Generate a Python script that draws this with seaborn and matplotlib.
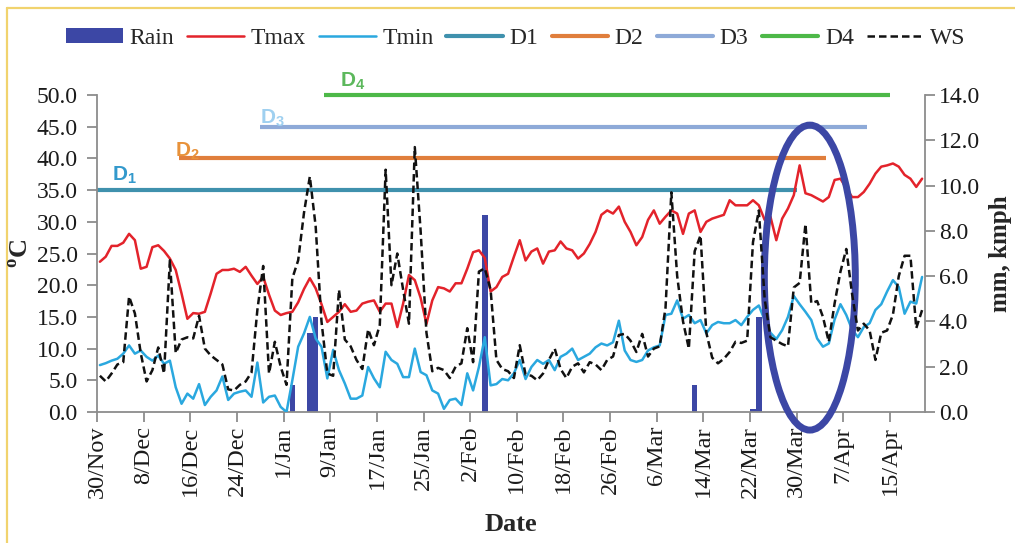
import numpy as np
import matplotlib
matplotlib.use("Agg")
import matplotlib.pyplot as plt
import seaborn as sns
from matplotlib.patches import Ellipse, Patch
from matplotlib.lines import Line2D

# Daily series, 30 Nov to 20 Apr (142 days)
tmax = [23.7, 24.5, 26.2, 26.2, 26.7, 28.1, 27.1, 22.6, 22.9, 26.0,
        26.3, 25.4, 24.2, 22.4, 18.7, 14.7, 15.6, 15.5, 15.8, 18.7,
        21.8, 22.4, 22.4, 22.6, 22.1, 22.9, 21.5, 20.2, 21.3, 18.5,
        16.0, 15.3, 15.6, 15.8, 17.3, 19.4, 21.1, 19.5, 17.0, 14.2,
        15.0, 15.8, 17.0, 15.8, 16.0, 17.1, 17.4, 17.6, 15.8, 17.1,
        17.1, 13.4, 17.1, 21.6, 20.8, 18.0, 13.9, 17.6, 19.7, 19.5,
        19.0, 20.3, 20.3, 22.6, 25.2, 25.5, 24.3, 19.0, 19.7, 21.3,
        21.8, 24.5, 27.1, 23.9, 25.3, 25.8, 23.4, 25.3, 25.5, 26.9,
        25.8, 25.5, 24.2, 25.0, 26.5, 28.4, 31.1, 31.8, 31.3, 32.4,
        30.0, 28.4, 26.3, 27.6, 30.3, 31.8, 29.7, 30.8, 31.8, 31.3,
        28.1, 31.3, 31.8, 28.4, 30.0, 30.5, 30.8, 31.1, 33.4, 32.6,
        32.6, 32.6, 33.4, 32.6, 30.3, 30.8, 27.1, 30.5, 32.1, 34.2,
        38.9, 34.5, 34.2, 33.7, 33.2, 33.9, 36.6, 36.8, 35.3, 33.9,
        33.9, 34.7, 36.0, 37.6, 38.7, 38.9, 39.2, 38.7, 37.4, 36.8,
        35.5, 36.8]

tmin = [7.4, 7.7, 8.1, 8.4, 9.2, 10.5, 9.2, 9.7, 8.7, 8.1,
        8.9, 7.6, 8.1, 3.9, 1.3, 2.9, 2.1, 4.4, 1.1, 2.4,
        3.4, 5.6, 1.9, 2.9, 3.2, 3.4, 2.4, 7.8, 1.5, 2.4,
        2.6, 0.8, 0.0, 5.0, 10.3, 12.4, 15.0, 11.6, 10.3, 5.3,
        9.8, 6.6, 4.5, 2.1, 2.1, 2.6, 7.1, 5.3, 3.9, 9.5,
        8.2, 7.6, 5.5, 5.5, 10.0, 6.3, 5.8, 3.4, 2.9, 0.5,
        1.9, 2.1, 1.1, 6.1, 3.4, 7.1, 11.8, 4.2, 4.4, 5.2,
        5.0, 6.1, 8.2, 5.2, 7.1, 8.2, 7.6, 8.2, 6.6, 8.7,
        9.2, 10.0, 8.2, 8.7, 9.2, 10.2, 10.8, 10.5, 11.0, 14.4,
        9.7, 8.2, 7.9, 8.2, 9.7, 10.2, 10.5, 15.3, 15.5, 17.6,
        14.7, 15.3, 14.0, 14.5, 12.4, 13.7, 14.2, 14.0, 14.0, 14.5,
        13.7, 15.0, 16.1, 16.8, 14.5, 12.5, 11.5, 12.9, 15.0, 18.3,
        17.0, 15.8, 14.5, 11.6, 10.3, 10.8, 14.6, 17.0, 15.3, 13.0,
        11.8, 13.4, 14.0, 16.1, 17.0, 19.0, 20.8, 19.7, 15.5, 17.4,
        17.1, 21.3]

ws = [1.6, 1.35, 1.7, 2.1, 2.2, 5.1, 4.35, 2.6, 1.35, 1.85,
      2.85, 1.7, 6.7, 2.6, 3.2, 3.3, 3.25, 4.25, 2.8, 2.5,
      2.3, 2.1, 1.0, 0.95, 1.2, 1.35, 1.75, 4.5, 6.45, 1.7,
      3.1, 2.0, 1.2, 5.9, 6.7, 8.8, 10.4, 8.2, 4.0, 1.7,
      1.6, 5.4, 3.2, 2.9, 2.3, 1.9, 3.65, 2.95, 3.85, 10.7,
      5.6, 7.0, 5.4, 3.9, 11.7, 8.0, 3.5, 1.8, 1.95, 1.85,
      1.5, 2.0, 2.15, 3.7, 2.2, 6.2, 6.35, 5.4, 2.3, 1.9,
      1.8, 1.5, 2.95, 1.65, 1.6, 1.4, 1.7, 2.3, 2.8, 1.9,
      1.5, 2.0, 2.15, 1.75, 2.2, 2.1, 1.85, 2.3, 2.45, 3.4,
      3.45, 3.15, 2.65, 3.45, 2.45, 2.8, 2.9, 4.6, 9.7, 6.0,
      4.0, 2.8, 7.1, 7.8, 3.5, 2.4, 2.15, 2.35, 2.65, 3.1,
      3.05, 3.15, 7.5, 8.9, 5.0, 3.3, 3.15, 3.0, 2.9, 5.5,
      5.7, 8.3, 4.8, 4.9, 4.2, 3.1, 4.8, 6.2, 7.2, 5.2,
      3.6, 3.9, 3.6, 2.3, 3.5, 3.6, 4.3, 6.0, 6.9, 6.9,
      3.7, 4.5]

# Rain events (day index from 30 Nov, mm)
rain_day = [33, 36, 37, 66, 102, 112, 113]
rain_mm = [1.2, 3.5, 4.2, 8.7, 1.2, 0.15, 4.2]

# Threshold periods: level (deg C), first and last day index
d_names = ["D1", "D2", "D3", "D4"]
d_level = [35, 40, 45, 50]
d_start = [0, 14, 28, 39]
d_end = [120, 125, 132, 136]

tick_labels = ["30/Nov", "8/Dec", "16/Dec", "24/Dec", "1/Jan", "9/Jan",
               "17/Jan", "25/Jan", "2/Feb", "10/Feb", "18/Feb", "26/Feb",
               "6/Mar", "14/Mar", "22/Mar", "30/Mar", "7/Apr", "15/Apr"]

c_rain = "#3c47a5"
c_tmax = "#e3232b"
c_tmin = "#2aa8df"
c_ws = "#111111"
d_colors = ["#3f91ad", "#e07e3c", "#8eaad8", "#4db848"]
d_text_colors = ["#3399cc", "#e8923a", "#9fd0f0", "#5cb85c"]

sns.set_theme(style="white")
plt.rcParams["font.family"] = ["Liberation Serif", "DejaVu Serif"]
plt.rcParams["mathtext.fontset"] = "custom"
plt.rcParams["mathtext.rm"] = "Liberation Serif"
plt.rcParams["mathtext.bf"] = "Liberation Serif:bold"
plt.rcParams["mathtext.sf"] = "Liberation Sans:bold"

W, H = 1015, 543
fig = plt.figure(figsize=(W / 100, H / 100), dpi=100)
fig.patch.set_facecolor("white")
ax = fig.add_axes([97 / W, 1 - 412 / H, 828 / W, 317 / H])
ax2 = ax.twinx()   # right axis, rain bars underneath
ax3 = ax.twinx()   # wind speed drawn on top of everything
ax2.set_zorder(1)
ax.set_zorder(2)
ax3.set_zorder(3)
for a in (ax, ax2, ax3):
    a.patch.set_visible(False)

n = len(tmax)
pos = np.arange(n) + 0.5

# rain bars on the secondary scale
ax2.bar(np.array(rain_day) + 0.5, rain_mm, width=0.95, color=c_rain, linewidth=0)

# threshold lines
for name, lvl, s, e, col in zip(d_names, d_level, d_start, d_end, d_colors):
    ax.plot([s, e], [lvl, lvl], color=col, lw=3.0, solid_capstyle="butt", clip_on=False, zorder=2)

sns.lineplot(x=pos, y=tmax, ax=ax, color=c_tmax, lw=1.8, zorder=3)
sns.lineplot(x=pos, y=tmin, ax=ax, color=c_tmin, lw=1.8, zorder=3)
sns.lineplot(x=pos, y=ws, ax=ax3, color=c_ws, lw=1.8, linestyle="--")
ax3.get_lines()[-1].set_dashes([3.0, 1.6])

# threshold labels
label_pos = [(2.5, 37.3), (13.4, 41.2), (27.9, 46.4), (41.7, 52.2)]
for (lx, ly), i, tc in zip(label_pos, range(4), d_text_colors):
    ax.text(lx, ly, r"D$_\mathsf{%d}$" % (i + 1), family="Liberation Sans",
            fontweight="bold", fontsize=15, color=tc, ha="left", va="center",
            clip_on=False, zorder=4)

# highlighted period
ell = Ellipse((122.25, 21.2), width=15.6, height=48.1, fill=False,
              edgecolor=c_rain, lw=5, transform=ax.transData, clip_on=False)
ax3.add_patch(ell)

# axes limits and ticks
ax.set_xlim(0, 142)
ax.set_ylim(0, 50)
ax2.set_ylim(0, 14)
ax3.set_ylim(0, 14)
ax3.set_axis_off()

ax.set_xticks(np.arange(0, 8 * len(tick_labels), 8))
ax.set_xticklabels(tick_labels, rotation=90, fontsize=17.5)
yt = np.arange(0, 50.1, 5)
ax.set_yticks(yt)
ax.set_yticklabels([f"{v:.1f}" for v in yt], fontsize=17)
yt2 = np.arange(0, 14.1, 2)
ax2.set_yticks(yt2)
ax2.set_yticklabels([f"{v:.1f}" for v in yt2], fontsize=17)

spine_c = "#8c8c8c"
for side in ("top", "right"):
    ax.spines[side].set_visible(False)
for side in ("top", "left", "bottom"):
    ax2.spines[side].set_visible(False)
for sp in (ax.spines["left"], ax.spines["bottom"], ax2.spines["right"]):
    sp.set_color(spine_c)
    sp.set_linewidth(1.3)

ax.tick_params(axis="x", bottom=True, direction="out", length=7, width=1.3,
               color=spine_c, pad=3, labelcolor="#1a1a1a")
ax.tick_params(axis="y", left=True, direction="out", length=7, width=1.3,
               color=spine_c, pad=7, labelcolor="#1a1a1a")
ax2.tick_params(axis="y", right=True, direction="out", length=7, width=1.3,
                color=spine_c, pad=3, labelcolor="#1a1a1a")
ax.grid(False)
ax2.grid(False)

ax.set_xlabel("Date", fontsize=19, fontweight="bold")
ax.xaxis.set_label_coords(0.5, -0.318)
ax.set_ylabel(r"$^{\mathbf{o}}$C", fontsize=19, fontweight="bold")
ax.yaxis.set_label_coords(-0.0765, 0.5)
ax2.set_ylabel("mm, kmph", fontsize=18, fontweight="bold")
ax2.yaxis.set_label_coords(1.077, 0.5)

# legend across the top
handles = [Patch(facecolor=c_rain, edgecolor="none"),
           Line2D([], [], color=c_tmax, lw=1.8),
           Line2D([], [], color=c_tmin, lw=1.8)]
handles += [Line2D([], [], color=c, lw=3.0) for c in d_colors]
handles.append(Line2D([], [], color=c_ws, lw=1.8, dashes=[3.0, 1.6]))
labels = ["Rain", "Tmax", "Tmin"] + d_names + ["WS"]
fig.legend(handles, labels, loc="center", bbox_to_anchor=(516 / W, 1 - 38 / H),
           ncol=8, frameon=False, fontsize=17, handlelength=2.4,
           handletextpad=0.28, columnspacing=0.55, handleheight=0.6)

# page frame
fr = "#f1d36e"
fig.add_artist(Line2D([7 / W, 7 / W], [0, 1 - 8 / H], color=fr, lw=1.6, transform=fig.transFigure))
fig.add_artist(Line2D([7 / W, 1], [1 - 8 / H, 1 - 8 / H], color=fr, lw=1.6, transform=fig.transFigure))

fig.savefig("out.png", dpi=100, facecolor="white")
